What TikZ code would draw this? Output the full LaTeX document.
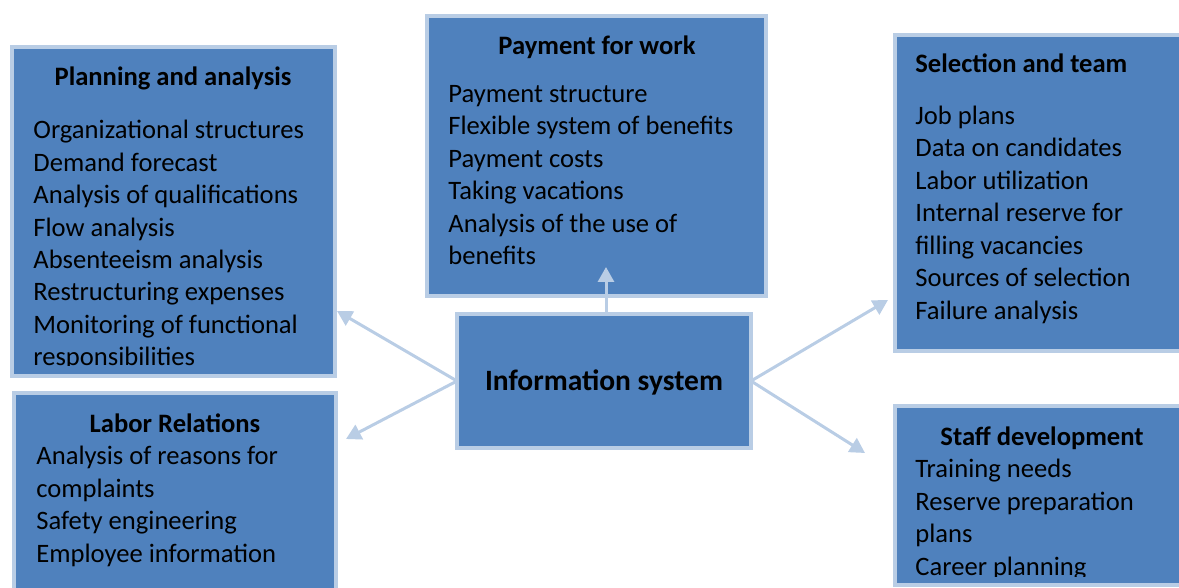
\documentclass[tikz,border=0pt]{standalone}
\usepackage{fontspec}
\setmainfont{Carlito}
\usetikzlibrary{arrows.meta, fit}
\definecolor{boxblue}{HTML}{4F81BD}
\definecolor{edgeblue}{HTML}{B9CDE5}

\begin{document}
\begin{tikzpicture}[x=0.5pt, y=-0.5pt,
box/.style={draw=edgeblue, fill=boxblue, line width=2pt, inner sep=0pt, outer sep=0pt},
head/.style={font=\bfseries\fontsize{13.3}{16}\selectfont, anchor=base, inner sep=0pt},
items/.style={font=\fontsize{13.3}{16.25}\selectfont, align=left, anchor=base west, inner sep=0pt},
link/.style={draw=edgeblue, line width=1.5pt, -{Triangle[length=7.5pt, width=8pt]}}]
\useasboundingbox (0,0) rectangle (1179,588);
\clip (0,0) rectangle (1179,588);
%================================================================
%	Boxes
\node[box, fit={(12,47) (335,376)}] (plan) {};
\node[box, fit={(14,393) (336,620)}] (labor) {};
\node[box, fit={(427,16) (766,296)}] (pay) {};
\node[box, fit={(457,314) (751,448)}] (info) {};
\node[box, fit={(895,35) (1200,351)}] (sel) {};
\node[box, fit={(895,406) (1200,585)}] (staff) {};

%================================================================
%	Nodes (the items are placed by the baseline of their last line)
\node[head] (plan-t) at (173,86) {Planning and analysis};
\begin{scope}
\clip (14,49) rectangle (333,366);
\node[items] (plan-l) at (33,366) {Organizational structures\\Demand forecast\\Analysis of qualifications\\Flow analysis\\Absenteeism analysis\\Restructuring expenses\\Monitoring of functional\\responsibilities};
\end{scope}

\node[head] (labor-t) at (175,433) {Labor Relations};
\node[items] (labor-l) at (36,562) {Analysis of reasons for\\complaints\\Safety engineering\\Employee information};

\node[head] (pay-t) at (597,55) {Payment for work};
\node[items] (pay-l) at (448,265) {Payment structure\\Flexible system of benefits\\Payment costs\\Taking vacations\\Analysis of the use of\\benefits};

\node[head, anchor=base west] (sel-t) at (915,73) {Selection and team};
\node[items] (sel-l) at (915,319.5) {Job plans\\Data on candidates\\Labor utilization\\Internal reserve for\\filling vacancies\\Sources of selection\\Failure analysis};

\node[head] (staff-t) at (1042,445) {Staff development};
\begin{scope}
\clip (897,408) rectangle (1179,576);
\node[items] (staff-l) at (915,575) {Training needs\\Reserve preparation\\plans\\Career planning};
\end{scope}

\node[head, font=\bfseries\fontsize{14.75}{18}\selectfont] (info-t) at (604,391) {Information system};

%----------------------------------------------------------------
\coordinate (paytip) at (606,267);
\coordinate (plantip) at (337,311);
\coordinate (labortip) at (346,439);
\coordinate (seltip) at (888,300);
\coordinate (stafftip) at (865,453);
%================================================================
%	Lines
\draw[link] (info.north -| paytip) -- (paytip);
\draw[link] (info.west) -- (plantip);
\draw[link] (info.west) -- (labortip);
\draw[link] (info.east) -- (seltip);
\draw[link] (info.east) -- (stafftip);
%================================================================
\end{tikzpicture}
\end{document}
